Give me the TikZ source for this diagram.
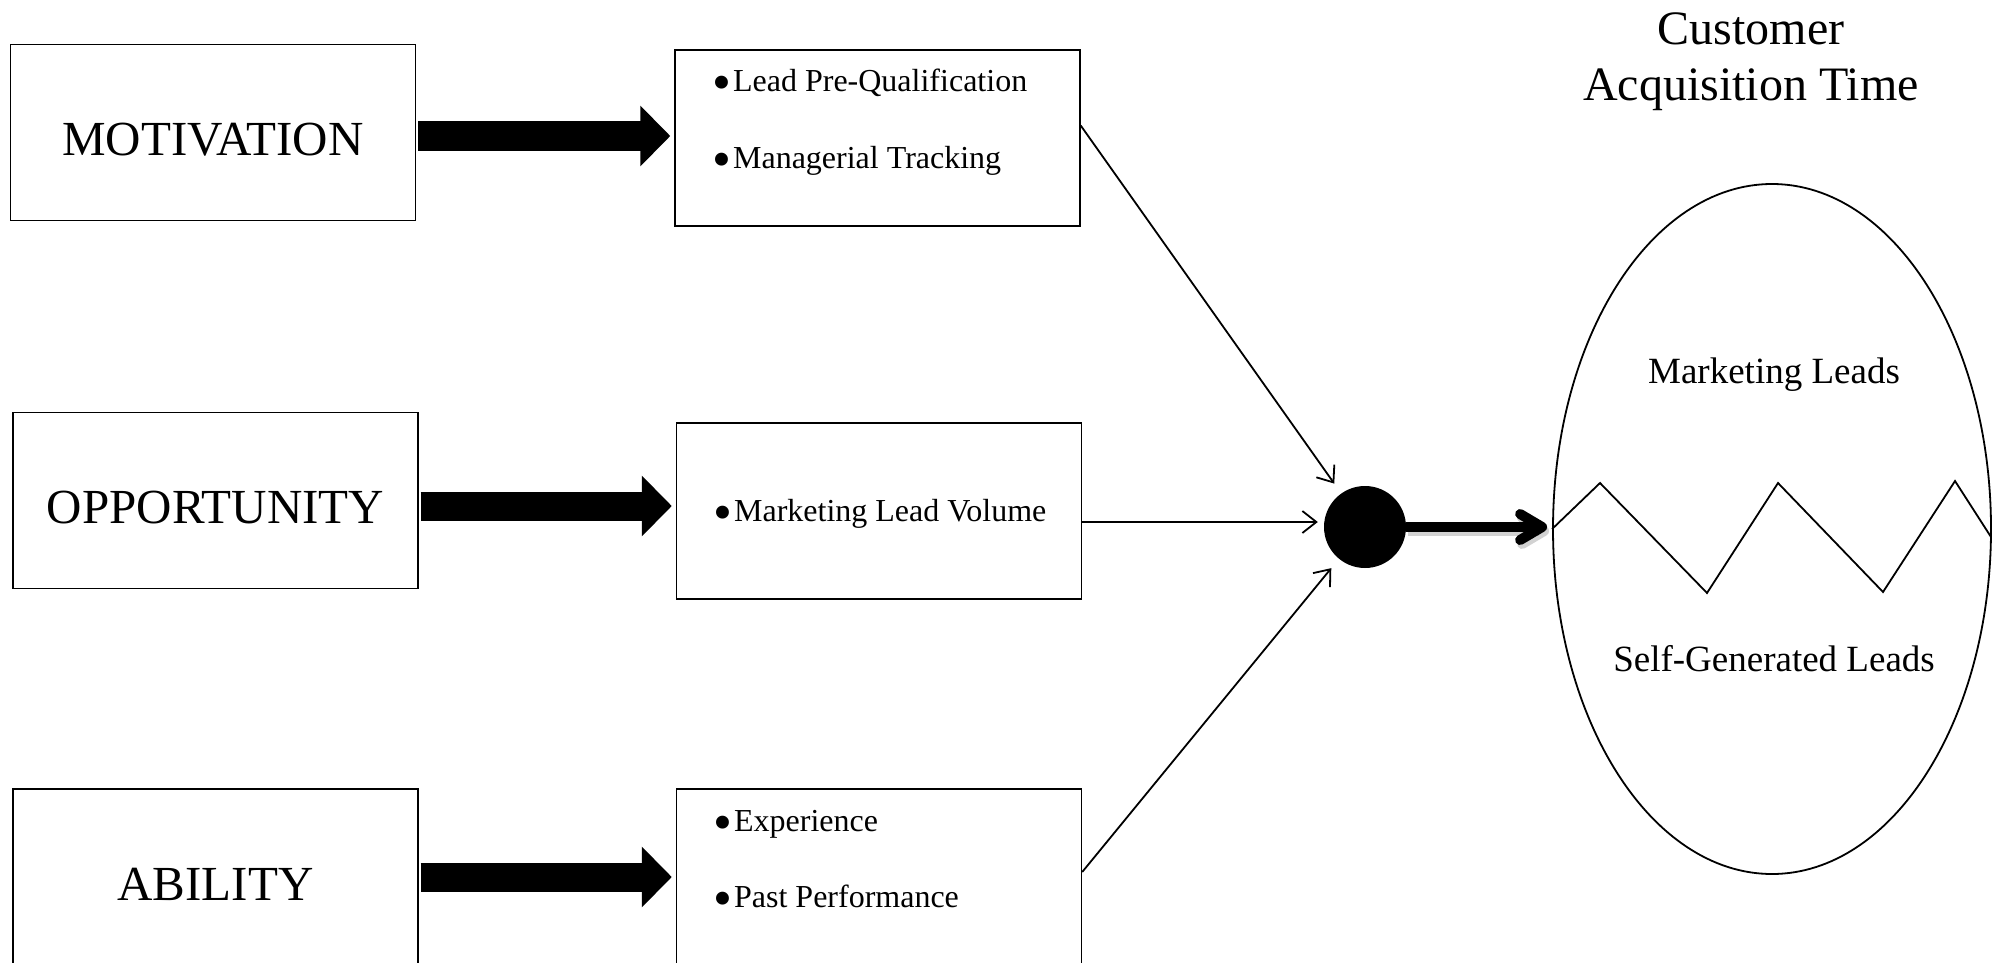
\documentclass[tikz,border=0pt]{standalone}
\usepackage{fontspec}
\setmainfont{Liberation Serif}
\usetikzlibrary{arrows.meta,shapes.geometric}
\newcommand{\bul}{\raisebox{-9pt}{\fontsize{54}{0}\selectfont •}\hspace{2pt}}
\begin{document}
\begin{tikzpicture}[x=1pt,y=-1pt,
  box/.style={draw,line width=1.4pt,minimum width=405pt,minimum height=176pt,inner sep=0pt},
  factor/.style={box,font=\fontsize{49}{58}\selectfont,text height=46pt,text depth=0pt},
  item/.style={anchor=base west,inner sep=0pt,font=\fontsize{32}{38}\selectfont},
  leadtext/.style={anchor=base,inner sep=0pt,font=\fontsize{37}{44}\selectfont},
  fatarrow/.style={line width=29pt,-{Triangle[length=30pt,width=59pt]}},
  link/.style={line width=1.8pt,-{Straight Barb[length=14pt,width=22pt]}},
  outarrow/.style={line width=10pt,-{Straight Barb[round,length=22pt,width=26pt]}},
]
\useasboundingbox (0,0) rectangle (1993,963);
\clip (0,0) rectangle (1993,963);

% the three factors
\node[factor] (mot) at (213,132.5) {MOTIVATION};
\node[factor] (opp) at (215.5,500.5) {OPPORTUNITY};
\node[factor] (abi) at (215.5,877) {ABILITY};

% driver boxes
\node[box] (drm) at (877.5,138) {};
\node[box] (dro) at (879,511) {};
\node[box] (dra) at (879,877) {};

\node[item] (m1) at (712,92) {\bul Lead Pre-Qualification};
\node[item] (m2) at (712,168) {\bul Managerial Tracking};
\node[item] (o1) at (713,521) {\bul Marketing Lead Volume};
\node[item] (a1) at (713,831) {\bul Experience};
\node[item] (a2) at (713,907) {\bul Past Performance};

% factor -> driver block arrows
\draw[fatarrow,shorten <=2pt,shorten >=4pt] ([yshift=-3.5pt]mot.east) -- ([yshift=-3.5pt]mot.east -| drm.west);
\draw[fatarrow,shorten <=2pt,shorten >=4pt] ([yshift=-5.5pt]opp.east) -- ([yshift=-5.5pt]opp.east -| dro.west);
\draw[fatarrow,shorten <=2pt,shorten >=4pt] (abi.east) -- (abi.east -| dra.west);

% junction
\node[circle,fill=black,minimum size=82pt,inner sep=0pt] (hub) at (1365,527) {};

\draw[link,shorten >=12pt] ([yshift=12.5pt]drm.east) -- (hub);
\draw[link,shorten >=6pt] ([yshift=-11pt]dro.east) -- ([yshift=-11pt]dro.east -| hub.west);
\draw[link,shorten >=12pt] ([yshift=5pt]dra.east) -- (hub);

% outcome
\node[ellipse,draw,line width=1.8pt,minimum width=438pt,minimum height=690pt,inner sep=0pt] (cat) at (1772,529) {};
\node[align=center,anchor=base,inner sep=0pt,font=\fontsize{48}{56}\selectfont] (title) at (1751,101) {Customer\\Acquisition Time};
\node[leadtext] (ml) at (1774,383) {Marketing Leads};
\node[leadtext] (sl) at (1774,671) {Self-Generated Leads};
\draw[line width=1.8pt] (cat.west) -- (1600,483) -- (1707,593) -- (1778,483) -- (1883,592) -- (1955,481) -- (1991,537);

\draw[outarrow,draw=black!35,opacity=0.5,shorten >=5pt,transform canvas={shift={(2pt,-4pt)}}] (hub.east) -- (hub.east -| cat.west);
\draw[outarrow,shorten >=5pt] (hub.east) -- (hub.east -| cat.west);
\end{tikzpicture}
\end{document}
